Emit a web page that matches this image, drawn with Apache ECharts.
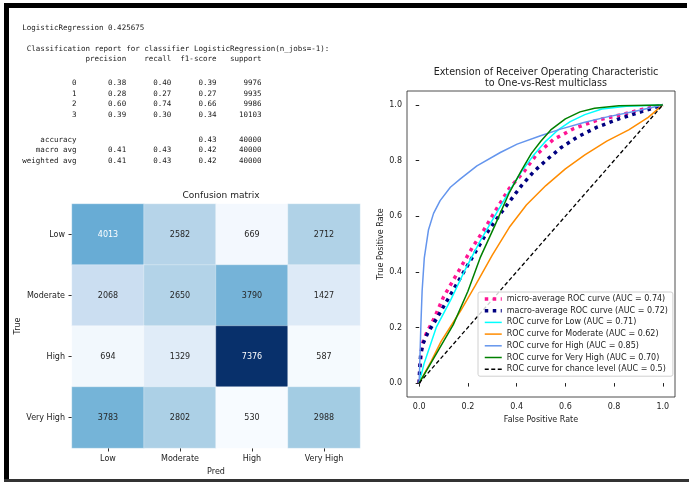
<!DOCTYPE html>
<html lang="en">
<head>
<meta charset="UTF-8">
<title>LogisticRegression report</title>
<style>
  html, body { margin: 0; padding: 0; background: #fff; }
  #main { width: 689px; height: 482px; }
</style>
</head>
<body>
<div id="main"></div>
<script src="https://cdn.jsdelivr.net/npm/echarts@6/dist/echarts.min.js"></script>
<script>
// ---- data ----
const classes = ['Low', 'Moderate', 'High', 'Very High'];
const confusion = [
    [4013, 2582, 669, 2712],
    [2068, 2650, 3790, 1427],
    [694, 1329, 7376, 587],
    [3783, 2802, 530, 2988]
];

const modelScore = '0.425675';
const reportLabels = ['0', '1', '2', '3'];
const precision = [0.38, 0.28, 0.60, 0.39];
const recall = [0.40, 0.27, 0.74, 0.30];
const f1score = [0.39, 0.27, 0.66, 0.34];
const support = [9976, 9935, 9986, 10103];
const accuracy = 0.43;
const macroAvg = [0.41, 0.43, 0.42];
const weightedAvg = [0.41, 0.43, 0.42];
const totalSupport = 40000;

const rocTicks = [0, 0.2, 0.4, 0.6, 0.8, 1.0];
const rocNames = [
    'micro-average ROC curve (AUC = 0.74)',
    'macro-average ROC curve (AUC = 0.72)',
    'ROC curve for Low (AUC = 0.71)',
    'ROC curve for Moderate (AUC = 0.62)',
    'ROC curve for High (AUC = 0.85)',
    'ROC curve for Very High (AUC = 0.70)',
    'ROC curve for chance level (AUC = 0.5)'
];
const rocMicro = [[0, 0], [0.004, 0.07], [0.012, 0.14], [0.03, 0.18], [0.06, 0.23], [0.10, 0.31], [0.14, 0.37],
    [0.18, 0.43], [0.22, 0.49], [0.265, 0.55], [0.32, 0.63], [0.37, 0.70], [0.43, 0.76], [0.48, 0.82],
    [0.55, 0.875], [0.635, 0.915], [0.73, 0.945], [0.83, 0.965], [0.92, 0.985], [1, 1]];
const rocMacro = [[0, 0], [0.002, 0.05], [0.006, 0.10], [0.015, 0.14], [0.035, 0.18], [0.07, 0.23], [0.11, 0.29],
    [0.15, 0.35], [0.19, 0.41], [0.23, 0.47], [0.27, 0.53], [0.31, 0.58], [0.36, 0.64], [0.42, 0.71],
    [0.47, 0.76], [0.52, 0.80], [0.58, 0.845], [0.65, 0.885], [0.73, 0.92], [0.82, 0.95], [0.91, 0.975], [1, 1]];
const rocLow = [[0, 0], [0.02, 0.07], [0.07, 0.20], [0.13, 0.30], [0.19, 0.41], [0.25, 0.51], [0.31, 0.60],
    [0.37, 0.69], [0.42, 0.76], [0.47, 0.82], [0.52, 0.87], [0.57, 0.91], [0.62, 0.94], [0.68, 0.965],
    [0.75, 0.985], [0.85, 0.995], [1, 1]];
const rocModerate = [[0, 0], [0.05, 0.08], [0.09, 0.15], [0.17, 0.26], [0.23, 0.35], [0.30, 0.46], [0.37, 0.56],
    [0.44, 0.64], [0.52, 0.71], [0.60, 0.77], [0.68, 0.82], [0.77, 0.87], [0.86, 0.91], [0.94, 0.955], [1, 1]];
const rocHigh = [[0, 0], [0.007, 0.21], [0.012, 0.33], [0.021, 0.45], [0.038, 0.55], [0.059, 0.61], [0.086, 0.656],
    [0.128, 0.704], [0.169, 0.734], [0.237, 0.781], [0.333, 0.829], [0.402, 0.859], [0.498, 0.889],
    [0.58, 0.913], [0.676, 0.937], [0.772, 0.957], [0.882, 0.976], [1, 1]];
const rocVeryHigh = [[0, 0], [0.06, 0.09], [0.14, 0.21], [0.20, 0.33], [0.25, 0.45], [0.31, 0.565], [0.37, 0.685],
    [0.42, 0.765], [0.46, 0.825], [0.50, 0.87], [0.54, 0.91], [0.60, 0.95], [0.66, 0.975], [0.72, 0.988],
    [0.82, 0.997], [1, 1]];
const rocChance = [[0, 0], [1, 1]];

// ---- classification report text (sklearn layout) ----
function pad(s, w) { return String(s).padStart(w); }
function reportRow(label, vals, sup) {
    return pad(label, 12) + ' ' + vals.map(v => ' ' + pad(v === null ? '' : v.toFixed(2), 9)).join('') + ' ' + pad(sup, 9);
}
const reportLines = [
    'LogisticRegression ' + modelScore,
    ' Classification report for classifier LogisticRegression(n_jobs=-1):',
    pad('', 12) + ' ' + ['precision', 'recall', 'f1-score', 'support'].map(h => ' ' + pad(h, 9)).join('')
];
reportLabels.forEach((l, i) => reportLines.push(reportRow(l, [precision[i], recall[i], f1score[i]], support[i])));
reportLines.push(reportRow('accuracy', [null, null, accuracy], totalSupport));
reportLines.push(reportRow('macro avg', macroAvg, totalSupport));
reportLines.push(reportRow('weighted avg', weightedAvg, totalSupport));
const reportY = [28.3, 49.3, 59.5, 83.3, 94, 104.5, 115, 140, 150.5, 161];

const textFont = 'DejaVu Sans';
const blues = ['#f7fbff', '#deebf7', '#c6dbef', '#9ecae1', '#6baed6', '#4292c6', '#2171b5', '#08519c', '#08306b'];

let flat = confusion.flat();
let cmMin = Math.min(...flat), cmMax = Math.max(...flat);
let cmMid = (cmMin + cmMax) / 2;
let heatData = [];
confusion.forEach((row, i) => {
    row.forEach((v, j) => {
        heatData.push({
            value: [j, i, v],
            label: { color: v > cmMid ? '#ffffff' : '#262626' }   // light text on dark cells
        });
    });
});

let chart = echarts.init(document.getElementById('main'));

let graphics = reportLines.map((t, i) => ({
    type: 'text',
    x: 22.3,
    y: reportY[i],
    style: { text: t, font: '7.5px "DejaVu Sans Mono"', fill: '#1a1a1a', verticalAlign: 'middle' }
}));
// black photo frame
graphics.push({ type: 'rect', shape: { x: 4, y: 3, width: 683, height: 5 }, style: { fill: '#000' } });
graphics.push({ type: 'rect', shape: { x: 4, y: 3, width: 5, height: 479 }, style: { fill: '#000' } });
graphics.push({ type: 'rect', shape: { x: 4, y: 479, width: 685, height: 3 }, style: { fill: '#333' } });

function rocSeries(name, data, color, width, type) {
    return {
        name: name,
        type: 'line',
        xAxisIndex: 1,
        yAxisIndex: 1,
        data: data,
        symbol: 'none',
        lineStyle: { color: color, width: width, type: type, cap: 'butt' },
        itemStyle: { color: color },
        animation: false
    };
}

let option = {
    animation: false,
    textStyle: { fontFamily: textFont },
    title: [
        {
            text: 'Confusion matrix',
            left: 216, top: 186, textAlign: 'center',
            textStyle: { fontSize: 9, fontWeight: 'normal', color: '#222' }
        },
        {
            text: 'Extension of Receiver Operating Characteristic\nto One-vs-Rest multiclass',
            left: 541, top: 62, textAlign: 'center',
            textStyle: { fontSize: 9.6, fontWeight: 'normal', color: '#222', lineHeight: 11 }
        }
    ],
    grid: [
        { left: 72, top: 204, width: 288, height: 244 },
        { left: 407, top: 91, width: 268, height: 306, show: true, borderColor: '#222', borderWidth: 0.8, backgroundColor: 'transparent' }
    ],
    xAxis: [
        {
            type: 'category', gridIndex: 0, data: classes,
            axisLine: { show: false },
            axisTick: { show: true, alignWithLabel: true, length: 3.5, lineStyle: { color: '#333' } },
            axisLabel: { fontSize: 8, color: '#222', margin: 7 },
            name: 'Pred', nameLocation: 'middle', nameGap: 20,
            nameTextStyle: { fontSize: 8, color: '#222' }
        },
        {
            type: 'value', gridIndex: 1, min: -0.05, max: 1.05,
            axisLine: { show: false },
            splitLine: { show: false },
            axisTick: { show: true, length: 3.5, customValues: rocTicks, lineStyle: { color: '#222' } },
            axisLabel: { fontSize: 8, color: '#222', margin: 6, customValues: rocTicks, formatter: v => v.toFixed(1) },
            name: 'False Positive Rate', nameLocation: 'middle', nameGap: 19,
            nameTextStyle: { fontSize: 8, color: '#222' }
        }
    ],
    yAxis: [
        {
            type: 'category', gridIndex: 0, data: classes, inverse: true,
            axisLine: { show: false },
            axisTick: { show: true, alignWithLabel: true, length: 3.5, lineStyle: { color: '#333' } },
            axisLabel: { fontSize: 8, color: '#222', margin: 7 },
            name: 'True', nameLocation: 'middle', nameGap: 46,
            nameTextStyle: { fontSize: 8, color: '#222' }
        },
        {
            type: 'value', gridIndex: 1, min: -0.05, max: 1.05,
            axisLine: { show: false },
            splitLine: { show: false },
            axisTick: { show: true, length: 3.5, customValues: rocTicks, lineStyle: { color: '#222' } },
            axisLabel: { fontSize: 8, color: '#222', margin: 5, customValues: rocTicks, formatter: v => v.toFixed(1) },
            name: 'True Positive Rate', nameLocation: 'middle', nameGap: 22,
            nameTextStyle: { fontSize: 8, color: '#222' }
        }
    ],
    visualMap: {
        show: false, type: 'continuous', seriesIndex: 0,
        min: cmMin, max: cmMax,
        inRange: { color: blues }
    },
    legend: {
        orient: 'vertical',
        left: 478, top: 292,
        itemWidth: 17, itemHeight: 10, itemGap: 3.7,
        padding: [3, 5, 3, 5],
        borderColor: '#d0d0d0', borderWidth: 1, borderRadius: 2,
        backgroundColor: 'rgba(255,255,255,0.8)',
        selectedMode: false,
        textStyle: { fontSize: 8, color: '#222', fontFamily: textFont },
        // hide the marker circle, keep only the line sample
        itemStyle: { opacity: 0, borderWidth: 0 },
        data: rocNames.map((n, i) => ({
            name: n,
            lineStyle: { width: i < 2 ? 3.5 : 1.5 }
        }))
    },
    series: [
        {
            type: 'heatmap',
            xAxisIndex: 0, yAxisIndex: 0,
            data: heatData,
            label: { show: true, fontSize: 8, fontFamily: textFont },
            itemStyle: { borderColor: 'rgba(255,255,255,0.5)', borderWidth: 0.6 },
            emphasis: { disabled: true }
        },
        rocSeries(rocNames[0], rocMicro, '#ff1493', 3.5, [3.5, 4.5]),
        rocSeries(rocNames[1], rocMacro, '#000080', 3.5, [3.5, 4.5]),
        rocSeries(rocNames[2], rocLow, '#00ffff', 1.5, 'solid'),
        rocSeries(rocNames[3], rocModerate, '#ff8c00', 1.5, 'solid'),
        rocSeries(rocNames[4], rocHigh, '#6495ed', 1.5, 'solid'),
        rocSeries(rocNames[5], rocVeryHigh, '#008000', 1.5, 'solid'),
        rocSeries(rocNames[6], rocChance, '#000000', 1.3, [4, 2.5])
    ],
    graphic: graphics
};
chart.setOption(option);
</script>
</body>
</html>
